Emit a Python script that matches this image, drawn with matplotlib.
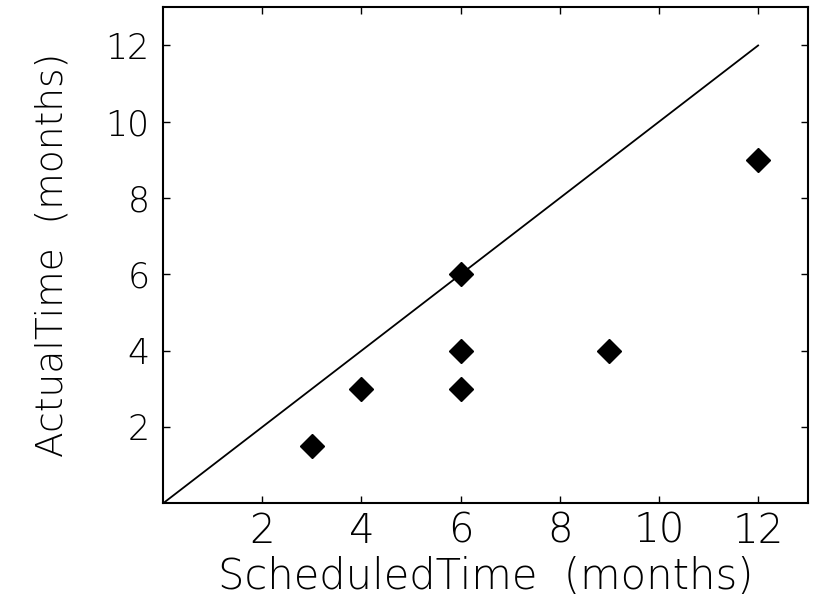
import matplotlib
matplotlib.use("Agg")
import matplotlib.pyplot as plt

# scheduled vs actual duration of projects (months)
scheduled = [3, 4, 6, 6, 6, 9, 12]
actual = [1.5, 3, 6, 4, 3, 4, 9]
ideal = [0, 12]
ticks = [2, 4, 6, 8, 10, 12]

plt.rcParams["font.family"] = "DejaVu Sans"
plt.rcParams["font.weight"] = 200

fig = plt.figure(figsize=(8.2, 6.1), dpi=100)
ax = fig.add_axes([0.199, 0.175, 0.786, 0.813])

ax.plot(ideal, ideal, color="black", linewidth=1.3)
ax.plot(scheduled, actual, linestyle="none", marker="D", markersize=12.5,
        color="black")

ax.set_xlim(0, 13)
ax.set_ylim(0, 13)
ax.set_xticks(ticks)
ax.set_yticks(ticks)
ax.tick_params(direction="in", length=5, width=1, top=True, right=True)
ax.tick_params(axis="x", labelsize=29, pad=6)
ax.tick_params(axis="y", labelsize=25, pad=10)
for s in ax.spines.values():
    s.set_linewidth(1.5)

ax.set_xlabel("ScheduledTime  (months)", fontsize=30, fontweight=200,
              labelpad=4)
ax.set_ylabel("ActualTime  (months)", fontsize=27, fontweight=200,
              labelpad=26)

fig.savefig("out.png", dpi=100)
